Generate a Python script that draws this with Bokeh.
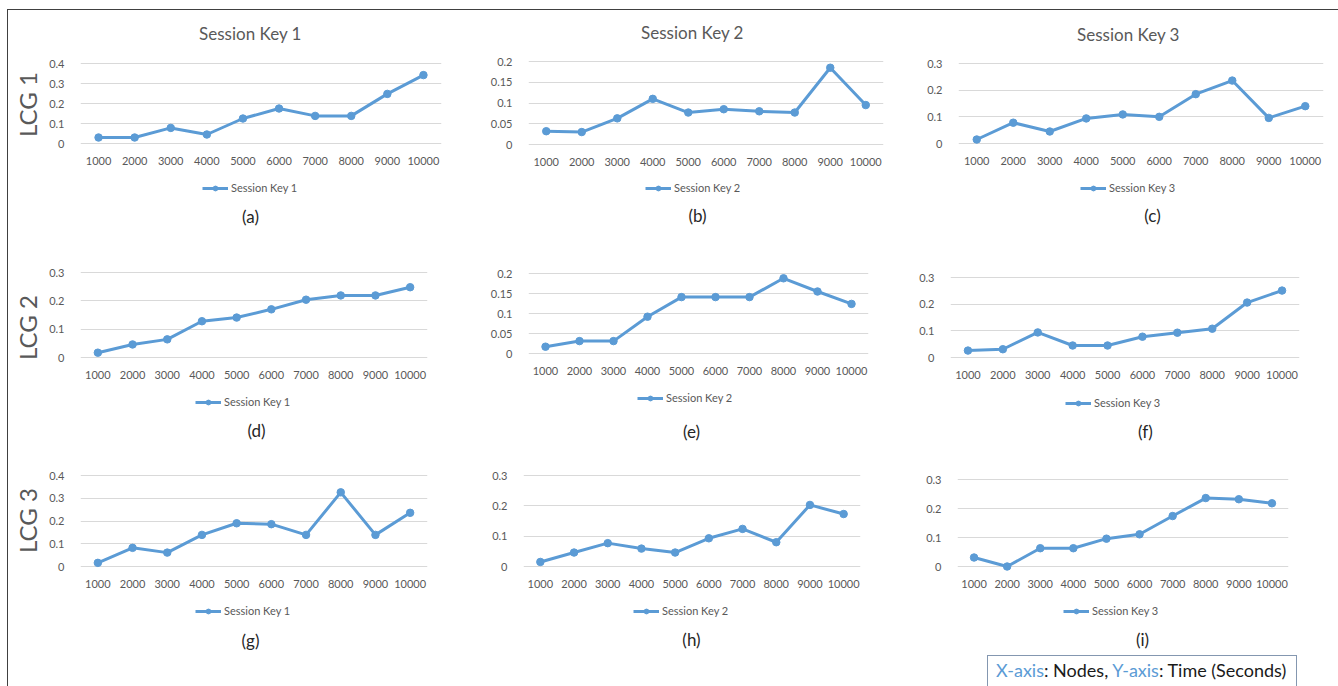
import math
from bokeh.plotting import figure
from bokeh.models import FactorRange, Range1d, FixedTicker, Legend, LegendItem, Label, Div
from bokeh.layouts import row, column
from bokeh.embed import file_html
from bokeh.resources import INLINE

# ---------------- data ----------------
nodes = ["1000", "2000", "3000", "4000", "5000", "6000", "7000", "8000", "9000", "10000"]

lcg1_sk1 = [0.030, 0.030, 0.078, 0.045, 0.125, 0.175, 0.138, 0.138, 0.248, 0.342]
lcg1_sk2 = [0.032, 0.030, 0.063, 0.110, 0.077, 0.085, 0.080, 0.077, 0.185, 0.095]
lcg1_sk3 = [0.015, 0.078, 0.045, 0.094, 0.109, 0.100, 0.185, 0.236, 0.096, 0.140]
lcg2_sk1 = [0.017, 0.046, 0.064, 0.128, 0.141, 0.170, 0.204, 0.219, 0.219, 0.248]
lcg2_sk2 = [0.017, 0.031, 0.031, 0.092, 0.141, 0.141, 0.141, 0.188, 0.155, 0.124]
lcg2_sk3 = [0.026, 0.031, 0.094, 0.045, 0.045, 0.078, 0.093, 0.108, 0.206, 0.251]
lcg3_sk1 = [0.016, 0.082, 0.061, 0.139, 0.190, 0.186, 0.139, 0.326, 0.139, 0.236]
lcg3_sk2 = [0.015, 0.046, 0.077, 0.059, 0.046, 0.093, 0.124, 0.080, 0.203, 0.173]
lcg3_sk3 = [0.031, 0.000, 0.063, 0.063, 0.096, 0.111, 0.174, 0.236, 0.232, 0.218]

ticks_04 = [0, 0.1, 0.2, 0.3, 0.4]
labels_04 = ["0", "0.1", "0.2", "0.3", "0.4"]
ticks_03 = [0, 0.1, 0.2, 0.3]
labels_03 = ["0", "0.1", "0.2", "0.3"]
ticks_02 = [0, 0.05, 0.1, 0.15, 0.2]
labels_02 = ["0", "0.05", "0.1", "0.15", "0.2"]

session_titles = ["Session Key 1", "Session Key 2", "Session Key 3"]
row_labels = ["LCG 1", "LCG 2", "LCG 3"]
panel_letters = ["(a)", "(b)", "(c)", "(d)", "(e)", "(f)", "(g)", "(h)", "(i)"]
note_parts = ["X-axis", ": Nodes, ", "Y-axis", ": Time (Seconds)"]

# ---------------- layout / style (page pixels) ----------------
BLUE = "#5B9BD5"
GRAY = "#595959"
FONT = "Lato"

ORIGIN = (8, 10)                 # page position of layout content (inside border)
strip_x = (8, 45)
col_x = [(45, 445), (445, 890), (890, 1336)]
row_y = [(10, 228), (228, 450), (450, 684)]
fig_i_bottom = 650
# per panel: frame left, frame right, y of top gridline, y of zero gridline
frames = [
    (80, 441, 63, 143), (528, 883, 61, 144), (958, 1323, 63, 143),
    (80, 427, 272, 357), (528, 868, 273, 353), (950, 1299, 277, 357),
    (80, 427, 475, 566), (523, 860, 475, 566), (957, 1288, 479, 566),
]
legend_pos = [(202, 188), (645, 188), (1080, 188),
              (195, 402), (637, 398), (1065, 403),
              (195, 611), (633, 611), (1063, 611)]
letter_pos = [(250, 216), (697, 215), (1152, 215),
              (256, 430), (691, 431), (1145, 431),
              (250, 640), (691, 639), (1142, 639)]
title_pos = [(250, 33), (692, 32), (1128, 34)]
lcg_pos = [(27, 104), (27, 327), (27, 520)]

series = [lcg1_sk1, lcg1_sk2, lcg1_sk3,
          lcg2_sk1, lcg2_sk2, lcg2_sk3,
          lcg3_sk1, lcg3_sk2, lcg3_sk3]
tick_sets = [(ticks_04, labels_04), (ticks_02, labels_02), (ticks_03, labels_03),
             (ticks_03, labels_03), (ticks_02, labels_02), (ticks_03, labels_03),
             (ticks_04, labels_04), (ticks_03, labels_03), (ticks_03, labels_03)]


def make_panel(idx):
    r, c = divmod(idx, 3)
    x0, x1 = col_x[c]
    y0, y1 = row_y[r]
    if idx == 8:
        y1 = fig_i_bottom
    fl, fr, ft, fz = frames[idx]
    ticks, tlabels = tick_sets[idx]
    ymax = ticks[-1]
    s = ymax / (fz - ft)
    # frame spans the full figure height; map gridlines to their pixel rows
    yr = Range1d(-(y1 - fz) * s, ymax + (ft - y0) * s)

    p = figure(width=x1 - x0, height=y1 - y0,
               x_range=FactorRange(*nodes), y_range=yr,
               output_backend="svg", toolbar_location=None,
               min_border_left=fl - x0, min_border_right=x1 - fr,
               min_border_top=0, min_border_bottom=0)
    p.outline_line_color = None
    p.background_fill_color = "white"
    p.border_fill_color = "white"

    ln = p.line(nodes, series[idx], line_color=BLUE, line_width=3)
    sc = p.scatter(nodes, series[idx], size=7.5, color=BLUE)

    p.xgrid.grid_line_color = None
    p.ygrid.grid_line_color = "#D9D9D9"
    p.ygrid.grid_line_width = 1

    ya = p.yaxis[0]
    ya.ticker = FixedTicker(ticks=ticks)
    ya.major_label_overrides = {t: lab for t, lab in zip(ticks, tlabels)}
    ya.axis_line_color = None
    ya.major_tick_line_color = None
    ya.minor_tick_line_color = None
    ya.major_label_standoff = 10
    ya.major_label_text_font = FONT
    ya.major_label_text_font_size = "11px"
    ya.major_label_text_color = GRAY

    xa = p.xaxis[0]
    xa.fixed_location = 0
    xa.axis_line_color = None
    xa.major_tick_line_color = None
    xa.minor_tick_line_color = None
    xa.major_label_standoff = 7
    xa.major_label_text_font = FONT
    xa.major_label_text_font_size = "11px"
    xa.major_label_text_color = GRAY

    # legend below the plotted data (location relative to frame bottom-left, y up)
    lx, lyc = legend_pos[idx]
    leg = Legend(items=[LegendItem(label=session_titles[c], renderers=[ln, sc])],
                 orientation="horizontal",
                 location=(lx - fl, y1 - (lyc + 6)),
                 border_line_color=None, background_fill_alpha=0,
                 margin=0, padding=0, spacing=0,
                 glyph_width=26, glyph_height=12, label_height=12,
                 label_standoff=3,
                 label_text_font=FONT, label_text_font_size="11px",
                 label_text_color=GRAY)
    p.add_layout(leg, "center")

    ax, ay = letter_pos[idx]
    p.add_layout(Label(x=ax - fl, y=y1 - ay, x_units="screen", y_units="screen",
                       text=panel_letters[idx], text_align="center", text_baseline="middle",
                       text_font=FONT, text_font_size="17px", text_color="#262626"))
    if r == 0:
        tx, ty = title_pos[c]
        p.add_layout(Label(x=tx - fl, y=y1 - ty, x_units="screen", y_units="screen",
                           text=session_titles[c], text_align="center", text_baseline="middle",
                           text_font=FONT, text_font_size="17px", text_color=GRAY))
    return p


def make_strip():
    sx0, sx1 = strip_x
    y0, y1 = row_y[0][0], row_y[2][1]
    p = figure(width=sx1 - sx0, height=y1 - y0,
               x_range=Range1d(0, 1), y_range=Range1d(0, 1),
               x_axis_location=None, y_axis_location=None,
               output_backend="svg", toolbar_location=None,
               min_border_left=0, min_border_right=0, min_border_top=0, min_border_bottom=0)
    p.outline_line_color = None
    p.grid.visible = False
    for lab, (lx, ly) in zip(row_labels, lcg_pos):
        p.add_layout(Label(x=lx - sx0, y=y1 - ly, x_units="screen", y_units="screen",
                           text=lab, angle=math.pi / 2, text_align="center",
                           text_baseline="middle", text_font=FONT, text_font_size="24px",
                           text_color=GRAY))
    return p


figs = [make_panel(i) for i in range(9)]
strip = make_strip()

note_html = (
    '<div style="margin:0 0 0 92px; box-sizing:border-box; width:310px; height:34px; '
    'border:1px solid #8497B0; font-family:Lato; font-size:18px; line-height:28px; '
    'color:#1a1a1a; padding-left:8px; white-space:nowrap;">'
    '<span style="color:#5B9BD5">' + note_parts[0] + '</span>' + note_parts[1] +
    '<span style="color:#5B9BD5">' + note_parts[2] + '</span>' + note_parts[3] +
    '</div>'
)
note = Div(text=note_html, width=col_x[2][1] - col_x[2][0], height=row_y[2][1] - fig_i_bottom)

grid = column(
    row(figs[0], figs[1], figs[2]),
    row(figs[3], figs[4], figs[5]),
    row(figs[6], figs[7], column(figs[8], note)),
)
layout = row(strip, grid,
             styles={"border": "1px solid #404040",
                     "margin-left": "%dpx" % (ORIGIN[0] - 1),
                     "margin-top": "%dpx" % (ORIGIN[1] - 1)})

open("out.html", "w").write(file_html(layout, INLINE))
